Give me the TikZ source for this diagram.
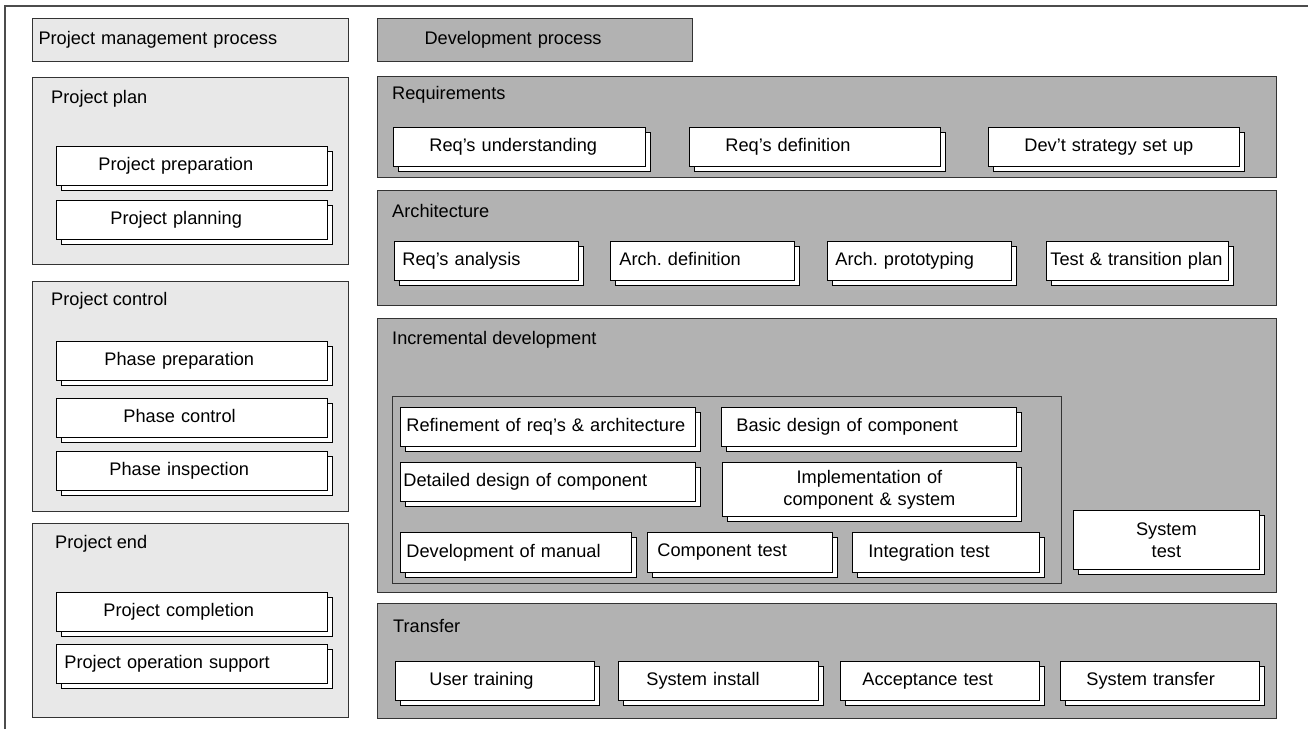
\documentclass[tikz,border=0pt]{standalone}
\usepackage{fontspec}
\setmainfont{Liberation Sans}
\usepackage{tikz}
\usetikzlibrary{shadows}
\frenchspacing
\tikzset{panel/.style={draw=black!80, line width=1pt, anchor=north west, inner sep=0pt}}
\tikzset{light/.style={panel, fill=black!9}}
\tikzset{dark/.style={panel, fill=black!30}}
\tikzset{heading/.style={anchor=west, inner sep=0pt, text height=13.5pt, text depth=4pt}}
\tikzset{card/.style 2 args={draw=black, fill=white, line width=0.8pt, anchor=north west,
    align=left, text width=#1, inner xsep=#2, inner ysep=0pt, minimum height=39pt, text depth=4pt,
    copy shadow={shadow xshift=5pt, shadow yshift=-5pt, draw=black, fill=white, line width=0.8pt}}}

\begin{document}
\begin{tikzpicture}[x=1pt, y=-1pt, font=\fontsize{18.2pt}{22pt}\selectfont]
    \useasboundingbox (0,0) rectangle (1308,729);
    \draw[black!70, line width=1.5pt] (5,729) -- (5,6) -- (1308,6);

    % project management side
    \node[light, align=left, text width=304pt, inner xsep=6pt, minimum height=43pt] at (32,18) (pmp){Project management process};
    \node[light, minimum width=316pt, minimum height=187pt] at (32,77) (plan){};
    \node[light, minimum width=316pt, minimum height=230pt] at (32,281) (control){};
    \node[light, minimum width=316pt, minimum height=194pt] at (32,523) (end){};
    \node[heading] at (51,99) (plan-t){Project plan};
    \node[heading] at (51,301) (control-t){Project control};
    \node[heading] at (55,544) (end-t){Project end};

    \node[card={187pt}{42pt}] at (56,146) (pprep){Project preparation};
    \node[card={163pt}{54pt}] at (56,200) (pplan){Project planning};
    \node[card={175pt}{48pt}] at (56,341) (phprep){Phase preparation};
    \node[card={137pt}{67pt}] at (56,398) (phctrl){Phase control};
    \node[card={165pt}{53pt}] at (56,451) (phinsp){Phase inspection};
    \node[card={177pt}{47pt}] at (56,592) (pcompl){Project completion};
    \node[card={255pt}{8pt}] at (56,644) (popsup){Project operation support};

    % development side
    \node[dark, align=left, text width=221pt, inner xsep=47pt, minimum height=43pt] at (377,18) (dev){Development process};
    \node[dark, minimum width=899pt, minimum height=101pt] at (377,76) (req){};
    \node[dark, minimum width=899pt, minimum height=115pt] at (377,190) (arch){};
    \node[dark, minimum width=899pt, minimum height=274pt] at (377,318) (inc){};
    \node[dark, minimum width=669pt, minimum height=187pt] at (392,396) (incbox){};
    \node[dark, minimum width=899pt, minimum height=115pt] at (377,603) (trans){};
    \node[heading] at (392,95) (req-t){Requirements};
    \node[heading] at (392,213) (arch-t){Architecture};
    \node[heading] at (392,340) (inc-t){Incremental development};
    \node[heading] at (393,628) (trans-t){Transfer};

    \node[card={180pt}{36pt}] at (393,127) (requ){Req’s understanding};
    \node[card={179pt}{36pt}] at (689,127) (reqd){Req’s definition};
    \node[card={179pt}{36pt}] at (988,127) (devs){Dev’t strategy set up};

    \node[card={168pt}{8pt}] at (394,241) (reqa){Req’s analysis};
    \node[card={166pt}{9pt}] at (610,241) (archd){Arch. definition};
    \node[card={168pt}{8pt}] at (827,241) (archp){Arch. prototyping};
    \node[card={174pt}{4pt}] at (1046,241) (ttp){Test \& transition plan};

    \node[card={283pt}{6pt}] at (400,407) (refin){Refinement of req’s \& architecture};
    \node[card={265pt}{15pt}] at (721,407) (basic){Basic design of component};
    \node[card={289pt}{3pt}] at (400,462) (detail){Detailed design of component};
    \node[card={274pt}{10pt}, align=center, text depth={}, minimum height=54pt] at (722,462) (impl){Implementation of\\component \& system};
    \node[card={219pt}{6pt}, minimum height=40pt] at (400,532) (devman){Development of manual};
    \node[card={165pt}{10pt}, minimum height=40pt] at (647,532) (comptest){Component test};
    \node[card={155pt}{16pt}, minimum height=40pt] at (852,532) (inttest){Integration test};
    \node[card={160pt}{13pt}, align=center, text depth={}, minimum height=59pt] at (1073,510) (systest){System\\test};

    \node[card={131pt}{34pt}] at (395,661) (usertr){User training};
    \node[card={144pt}{28pt}] at (618,661) (sysinst){System install};
    \node[card={155pt}{22pt}] at (840,661) (acctest){Acceptance test};
    \node[card={147pt}{26pt}] at (1060,661) (systr){System transfer};
\end{tikzpicture}
\end{document}
